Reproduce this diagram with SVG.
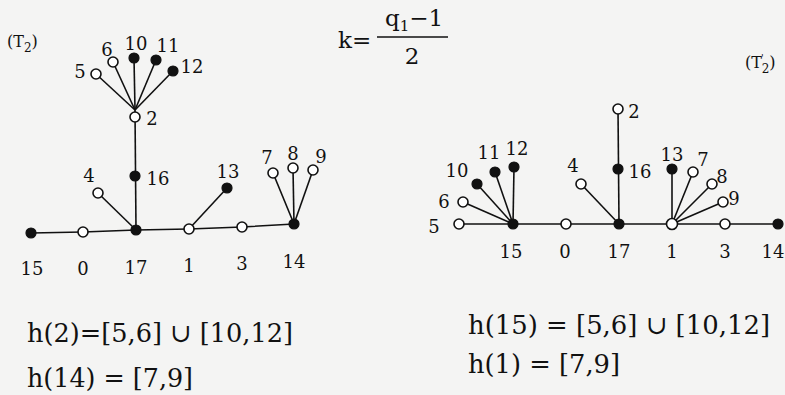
<svg xmlns="http://www.w3.org/2000/svg" width="785" height="395" viewBox="0 0 785 395">
<style>
.e{stroke:#111;stroke-width:1.6;fill:none}
.o{fill:#fff;stroke:#111;stroke-width:1.6}
.f{fill:#111;stroke:#111;stroke-width:1.2}
text{font-family:"DejaVu Serif","Liberation Serif",serif;fill:#111}
.l{font-size:18px;text-anchor:middle;dominant-baseline:central}
.eq{font-size:26px}
</style>
<rect width="785" height="395" fill="#f4f4f3"/>
<text x="7" y="47" font-size="16">(T<tspan font-size="12" dy="5">2</tspan><tspan dy="-5">)</tspan></text>
<text x="745" y="68" font-size="16">(T<tspan font-size="10" dy="-7" dx="-1">'</tspan><tspan font-size="12" dy="12" dx="-2">2</tspan><tspan dy="-5">)</tspan></text>
<g id="formula">
<text x="338" y="48" font-size="23">k=</text>
<text x="385" y="26" font-size="23">q<tspan font-size="15" dy="5">1</tspan><tspan dy="-5">−1</tspan></text>
<line x1="377" y1="37" x2="448" y2="37" stroke="#111" stroke-width="1.5"/>
<text x="412" y="64" font-size="23" text-anchor="middle">2</text>
</g>
<g id="connectors">
<polyline class="e" points="31,233 83,232 136,230 189,229 242,227 294,224"/>
<line class="e" x1="136" y1="230" x2="98" y2="193"/>
<line class="e" x1="136" y1="230" x2="135" y2="110"/>
<line class="e" x1="189" y1="229" x2="227" y2="188"/>
<line class="e" x1="294" y1="224" x2="273" y2="173"/>
<line class="e" x1="294" y1="224" x2="293" y2="168"/>
<line class="e" x1="294" y1="224" x2="313" y2="170"/>
<line class="e" x1="135" y1="110" x2="96" y2="74"/>
<line class="e" x1="135" y1="110" x2="113" y2="62"/>
<line class="e" x1="135" y1="110" x2="134" y2="58"/>
<line class="e" x1="135" y1="110" x2="156" y2="60"/>
<line class="e" x1="135" y1="110" x2="173" y2="71"/>
<line class="e" x1="459" y1="224" x2="778" y2="224"/>
<line class="e" x1="513" y1="224" x2="463" y2="202"/>
<line class="e" x1="513" y1="224" x2="477" y2="184"/>
<line class="e" x1="513" y1="224" x2="495" y2="172"/>
<line class="e" x1="513" y1="224" x2="514" y2="167"/>
<line class="e" x1="619" y1="224" x2="581" y2="184"/>
<line class="e" x1="619" y1="224" x2="618" y2="109"/>
<line class="e" x1="672" y1="224" x2="672" y2="169"/>
<line class="e" x1="672" y1="224" x2="693" y2="172"/>
<line class="e" x1="672" y1="224" x2="712" y2="184"/>
<line class="e" x1="672" y1="224" x2="723" y2="202"/>
</g>
<g id="L15"><circle class="f" cx="31" cy="233" r="5"/><text class="l" x="32" y="268">15</text></g>
<g id="L0"><circle class="o" cx="83" cy="232" r="5"/><text class="l" x="83" y="268">0</text></g>
<g id="L17"><circle class="f" cx="136" cy="230" r="5"/><text class="l" x="136" y="267">17</text></g>
<g id="L1"><circle class="o" cx="189" cy="229" r="5"/><text class="l" x="189" y="265">1</text></g>
<g id="L3"><circle class="o" cx="242" cy="227" r="5"/><text class="l" x="242" y="263">3</text></g>
<g id="L14"><circle class="f" cx="294" cy="224" r="5"/><text class="l" x="294" y="261">14</text></g>
<g id="L4"><circle class="o" cx="98" cy="193" r="5"/><text class="l" x="89" y="175">4</text></g>
<g id="L16"><circle class="f" cx="135" cy="176" r="5"/><text class="l" x="158" y="178">16</text></g>
<g id="L13"><circle class="f" cx="227" cy="188" r="5"/><text class="l" x="228" y="171">13</text></g>
<g id="L2"><circle class="o" cx="135" cy="117" r="5"/><text class="l" x="152" y="118">2</text></g>
<g id="L5"><circle class="o" cx="96" cy="74" r="5"/><text class="l" x="80" y="71">5</text></g>
<g id="L6"><circle class="o" cx="113" cy="62" r="5"/><text class="l" x="107" y="49">6</text></g>
<g id="L10"><circle class="f" cx="134" cy="58" r="5"/><text class="l" x="136" y="43">10</text></g>
<g id="L11"><circle class="f" cx="156" cy="60" r="5"/><text class="l" x="168" y="45">11</text></g>
<g id="L12"><circle class="f" cx="173" cy="71" r="5"/><text class="l" x="192" y="66">12</text></g>
<g id="L7"><circle class="o" cx="273" cy="173" r="5"/><text class="l" x="267" y="157">7</text></g>
<g id="L8"><circle class="o" cx="293" cy="168" r="5"/><text class="l" x="293" y="153">8</text></g>
<g id="L9"><circle class="o" cx="313" cy="170" r="5"/><text class="l" x="321" y="156">9</text></g>
<g id="R5"><circle class="o" cx="459" cy="224" r="5"/><text class="l" x="434" y="226">5</text></g>
<g id="R15"><circle class="f" cx="513" cy="224" r="5"/><text class="l" x="511" y="251">15</text></g>
<g id="R0"><circle class="o" cx="566" cy="224" r="5"/><text class="l" x="565" y="251">0</text></g>
<g id="R17"><circle class="f" cx="619" cy="224" r="5"/><text class="l" x="619" y="251">17</text></g>
<g id="R1"><circle class="o" cx="672" cy="224" r="5.5"/><text class="l" x="672" y="251">1</text></g>
<g id="R3"><circle class="o" cx="725" cy="224" r="5"/><text class="l" x="725" y="251">3</text></g>
<g id="R14"><circle class="f" cx="778" cy="224" r="5"/><text class="l" x="773" y="251">14</text></g>
<g id="R6"><circle class="o" cx="463" cy="202" r="5"/><text class="l" x="444" y="201">6</text></g>
<g id="R10"><circle class="f" cx="477" cy="184" r="5"/><text class="l" x="457" y="170">10</text></g>
<g id="R11"><circle class="f" cx="495" cy="172" r="5"/><text class="l" x="489" y="152">11</text></g>
<g id="R12"><circle class="f" cx="514" cy="167" r="5"/><text class="l" x="517" y="148">12</text></g>
<g id="R4"><circle class="o" cx="581" cy="184" r="5"/><text class="l" x="573" y="165">4</text></g>
<g id="R16"><circle class="f" cx="618" cy="169" r="5"/><text class="l" x="640" y="171">16</text></g>
<g id="R2"><circle class="o" cx="618" cy="109" r="5"/><text class="l" x="634" y="111">2</text></g>
<g id="R13"><circle class="f" cx="672" cy="169" r="5"/><text class="l" x="672" y="154">13</text></g>
<g id="R7"><circle class="o" cx="693" cy="172" r="5"/><text class="l" x="703" y="159">7</text></g>
<g id="R8"><circle class="o" cx="712" cy="184" r="5"/><text class="l" x="722" y="176">8</text></g>
<g id="R9"><circle class="o" cx="723" cy="202" r="5"/><text class="l" x="734" y="198">9</text></g>
<text class="eq" x="27" y="342" textLength="266" lengthAdjust="spacingAndGlyphs">h(2)=[5,6] ∪ [10,12]</text>
<text class="eq" x="27" y="387" textLength="166" lengthAdjust="spacingAndGlyphs">h(14) = [7,9]</text>
<text class="eq" x="468" y="334" textLength="302" lengthAdjust="spacingAndGlyphs">h(15) = [5,6] ∪ [10,12]</text>
<text class="eq" x="468" y="373" textLength="152" lengthAdjust="spacingAndGlyphs">h(1) = [7,9]</text>
</svg>
